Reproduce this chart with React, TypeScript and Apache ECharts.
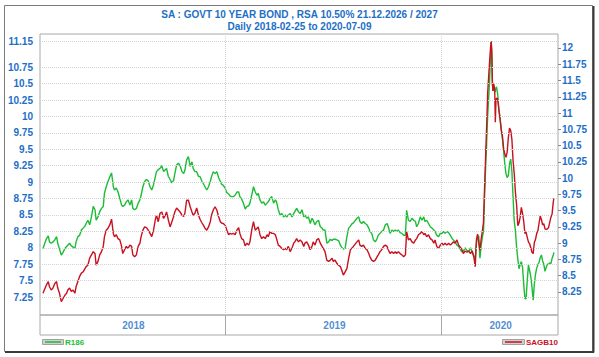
import React, { useEffect, useRef } from 'react';
import * as echarts from 'echarts';

const dates = [
  '2018-02-26','2018-03-04','2018-03-07','2018-03-09','2018-03-12','2018-03-15','2018-03-18','2018-03-21','2018-03-23','2018-03-26','2018-03-29',
  '2018-04-01','2018-04-04','2018-04-07','2018-04-09','2018-04-12','2018-04-15','2018-04-18','2018-04-21','2018-04-23','2018-04-26','2018-04-29',
  '2018-05-02','2018-05-05','2018-05-08','2018-05-10','2018-05-13','2018-05-16','2018-05-19','2018-05-22','2018-05-25','2018-05-27','2018-05-30',
  '2018-06-02','2018-06-05','2018-06-08','2018-06-10','2018-06-13','2018-06-16','2018-06-19','2018-06-22','2018-06-25','2018-06-27','2018-06-30',
  '2018-07-03','2018-07-06','2018-07-09','2018-07-11','2018-07-14','2018-07-17','2018-07-20','2018-07-23','2018-07-26','2018-07-28','2018-07-31',
  '2018-08-03','2018-08-06','2018-08-09','2018-08-11','2018-08-14','2018-08-17',
  '2018-08-20','2018-08-23','2018-08-26','2018-08-29',
  '2018-09-01','2018-09-04','2018-09-06','2018-09-09','2018-09-12','2018-09-15','2018-09-18','2018-09-21','2018-09-23','2018-09-26','2018-09-29',
  '2018-10-02','2018-10-05','2018-10-07','2018-10-10','2018-10-13','2018-10-16','2018-10-19','2018-10-22','2018-10-24','2018-10-27','2018-10-30',
  '2018-11-02','2018-11-05','2018-11-07','2018-11-10','2018-11-13','2018-11-16','2018-11-19','2018-11-22','2018-11-24','2018-11-27','2018-11-30',
  '2018-12-03','2018-12-06','2018-12-08','2018-12-11','2018-12-14','2018-12-17','2018-12-20','2018-12-23','2018-12-25','2018-12-28','2018-12-31',
  '2019-01-03','2019-01-06','2019-01-08','2019-01-11','2019-01-14','2019-01-17','2019-01-20','2019-01-23','2019-01-25','2019-01-28','2019-01-31',
  '2019-02-03','2019-02-06','2019-02-09',
  '2019-02-11','2019-02-14','2019-02-17','2019-02-20','2019-02-23','2019-02-25','2019-02-28',
  '2019-03-03','2019-03-06','2019-03-09','2019-03-12','2019-03-14','2019-03-17','2019-03-20','2019-03-23','2019-03-26','2019-03-28','2019-03-31',
  '2019-04-03','2019-04-06','2019-04-09','2019-04-12','2019-04-14','2019-04-17','2019-04-20','2019-04-23','2019-04-26','2019-04-28',
  '2019-05-01','2019-05-04','2019-05-07','2019-05-10','2019-05-13','2019-05-15','2019-05-18','2019-05-21','2019-05-24','2019-05-27','2019-05-29',
  '2019-06-01','2019-06-04','2019-06-07','2019-06-10','2019-06-13','2019-06-15','2019-06-18','2019-06-21','2019-06-24','2019-06-27','2019-06-30',
  '2019-07-02','2019-07-05','2019-07-08','2019-07-11','2019-07-14','2019-07-16','2019-07-19','2019-07-22','2019-07-25','2019-07-28','2019-07-31',
  '2019-08-02','2019-08-05',
  '2019-08-11','2019-08-14','2019-08-16','2019-08-19','2019-08-22','2019-08-25','2019-08-28','2019-08-31',
  '2019-09-02','2019-09-05','2019-09-08','2019-09-11','2019-09-14','2019-09-16','2019-09-19','2019-09-22','2019-09-25','2019-09-28',
  '2019-10-01','2019-10-03','2019-10-06','2019-10-09','2019-10-12','2019-10-15','2019-10-17','2019-10-20','2019-10-23','2019-10-26','2019-10-29',
  '2019-11-01','2019-11-03','2019-11-06','2019-11-09','2019-11-12','2019-11-15','2019-11-18','2019-11-20','2019-11-23','2019-11-26','2019-11-29',
  '2019-12-02','2019-12-04','2019-12-07','2019-12-10','2019-12-13','2019-12-16','2019-12-19','2019-12-21','2019-12-24','2019-12-27','2019-12-30',
  '2020-01-02','2020-01-04','2020-01-07','2020-01-10','2020-01-13','2020-01-16','2020-01-19','2020-01-21','2020-01-24','2020-01-27','2020-01-30',
  '2020-02-04','2020-02-07','2020-02-10','2020-02-13','2020-02-16','2020-02-19','2020-02-22','2020-02-25','2020-02-27','2020-02-29',
  '2020-03-02','2020-03-04','2020-03-06','2020-03-08','2020-03-10','2020-03-12','2020-03-14',
  '2020-03-15','2020-03-16','2020-03-17','2020-03-18','2020-03-19','2020-03-20','2020-03-21','2020-03-22','2020-03-23','2020-03-24',
  '2020-03-25','2020-03-26','2020-03-27','2020-03-28','2020-03-29','2020-03-30','2020-03-31','2020-04-01','2020-04-02','2020-04-03',
  '2020-04-05','2020-04-07','2020-04-09','2020-04-11','2020-04-13','2020-04-15','2020-04-17','2020-04-19','2020-04-21','2020-04-23','2020-04-25','2020-04-27','2020-04-29',
  '2020-05-01','2020-05-03','2020-05-05','2020-05-07','2020-05-09','2020-05-11','2020-05-13','2020-05-15','2020-05-17','2020-05-19','2020-05-21','2020-05-23','2020-05-25','2020-05-27','2020-05-29','2020-05-31',
  '2020-06-02','2020-06-04','2020-06-06','2020-06-08','2020-06-10','2020-06-12','2020-06-14','2020-06-16','2020-06-18','2020-06-20','2020-06-22','2020-06-24','2020-06-26','2020-06-28','2020-06-30',
  '2020-07-02','2020-07-04','2020-07-06','2020-07-08','2020-07-09',
];

const r186 = [
  7.99, 8.14, 8.18, 8.09, 8.07, 8.09, 8.12, 8.17, 8.07, 7.98, 7.89, 7.93, 7.99, 8.02, 8.04, 8.07, 8.03, 8.01, 7.99, 8.09,
  8.17, 8.19, 8.27, 8.30, 8.33, 8.37, 8.42, 8.35, 8.47, 8.63, 8.58, 8.42, 8.47, 8.55, 8.60, 8.63, 8.83, 8.93, 9.01, 9.08,
  9.14, 8.93, 8.88, 8.91, 8.85, 8.75, 8.65, 8.63, 8.65, 8.70, 8.73, 8.65, 8.73, 8.60, 8.58, 8.60, 8.68, 8.73, 8.80, 8.93, 9.01,
  9.04, 9.02, 8.93, 8.88, 8.96, 9.08, 9.16, 9.19, 9.21, 9.25, 9.16, 9.19, 9.21, 9.09, 9.04, 8.99, 9.03, 9.13, 9.26, 9.29,
  9.25, 9.16, 9.13, 9.18, 9.34, 9.39, 9.24, 9.31, 9.21, 9.16, 9.16, 9.09, 9.08, 9.01, 8.98, 8.93, 8.88, 8.93, 9.01, 9.08,
  9.16, 9.13, 9.16, 9.07, 9.01, 8.97, 8.95, 8.91, 8.84, 8.82, 8.79, 8.78, 8.78, 8.80, 8.85, 8.85, 8.78, 8.74, 8.68, 8.59, 8.63, 8.64,
  8.68, 8.80, 8.93, 8.85, 8.80, 8.83, 8.73, 8.68, 8.70, 8.65, 8.68, 8.70, 8.75, 8.78, 8.68, 8.73, 8.70, 8.58, 8.50, 8.52,
  8.47, 8.50, 8.47, 8.50, 8.52, 8.47, 8.52, 8.55, 8.60, 8.55, 8.52, 8.58, 8.47, 8.50, 8.45, 8.47, 8.37, 8.45, 8.42, 8.35,
  8.40, 8.42, 8.32, 8.30, 8.27, 8.27, 8.07, 8.09, 8.13, 8.11, 8.13, 8.13, 8.12, 8.11, 8.04, 8.01, 7.98, 7.99, 8.17, 8.30, 8.33, 8.36, 8.38,
  8.45, 8.47, 8.40, 8.37, 8.40, 8.37, 8.35, 8.30, 8.25, 8.22, 8.12, 8.09, 8.14, 8.19, 8.22, 8.25, 8.27, 8.35, 8.37, 8.32,
  8.22, 8.27, 8.25, 8.27, 8.25, 8.27, 8.23, 8.22, 8.19, 8.19, 8.57, 8.42, 8.40, 8.45, 8.42, 8.40, 8.32, 8.37, 8.47, 8.42,
  8.47, 8.40, 8.42, 8.37, 8.32, 8.30, 8.27, 8.25, 8.19, 8.17, 8.22, 8.22, 8.25, 8.22, 8.25, 8.23, 8.19, 8.14, 8.12, 8.09, 8.04, 8.02,
  7.94, 7.95, 8.00, 7.96, 7.94, 8.00, 7.93, 7.87, 7.83, 8.06,
  8.18, 8.18, 7.84, 8.03, 8.16, 8.25, 8.84,
  9.07, 9.33, 9.50, 9.78, 9.99, 10.16, 10.32, 10.49, 10.70, 10.95, 11.15, 10.95, 10.49, 10.39, 10.44, 10.42, 10.37, 10.39, 10.44, 10.45,
  10.34, 10.11, 9.98, 9.81, 9.66, 9.48, 9.28, 9.13, 9.07, 9.10, 9.28, 9.35, 9.17, 8.77, 8.41, 8.26, 8.01, 7.83, 7.68, 7.74,
  7.79, 7.71, 7.45, 7.23, 7.22, 7.50, 7.74, 7.65, 7.56, 7.40, 7.20, 7.45, 7.60, 7.69, 7.74, 7.78, 7.85, 7.89, 7.80, 7.75,
  7.64, 7.70, 7.75, 7.75, 7.77, 7.76, 7.84, 7.89,
  7.93,
];

const sagb10 = [
  8.23, 8.36, 8.41, 8.33, 8.28, 8.31, 8.38, 8.41, 8.31, 8.23, 8.10, 8.15, 8.20, 8.23, 8.28, 8.31, 8.26, 8.28, 8.23, 8.33,
  8.41, 8.49, 8.54, 8.56, 8.61, 8.64, 8.66, 8.77, 8.82, 8.87, 8.84, 8.66, 8.72, 8.82, 8.87, 8.95, 9.10, 9.20, 9.23, 9.28,
  9.37, 9.15, 9.10, 9.13, 9.07, 9.05, 8.95, 8.84, 8.90, 8.95, 8.92, 8.97, 8.95, 8.82, 8.79, 8.82, 8.95, 9.00, 9.10, 9.20, 9.25,
  9.24, 9.20, 9.15, 9.10, 9.20, 9.36, 9.43, 9.33, 9.46, 9.48, 9.38, 9.43, 9.48, 9.36, 9.25, 9.33, 9.41, 9.48, 9.54, 9.51,
  9.48, 9.43, 9.41, 9.46, 9.66, 9.66, 9.56, 9.48, 9.43, 9.46, 9.54, 9.43, 9.36, 9.31, 9.28, 9.23, 9.20, 9.25, 9.33, 9.43,
  9.51, 9.56, 9.51, 9.41, 9.33, 9.31, 9.30, 9.28, 9.20, 9.13, 9.15, 9.14, 9.15, 9.13, 9.20, 9.24, 9.15, 9.07, 9.05, 8.96, 9.00, 8.97,
  9.02, 9.20, 9.33, 9.20, 9.23, 9.25, 9.13, 9.07, 9.10, 9.07, 9.13, 9.10, 9.18, 9.15, 9.15, 9.13, 9.07, 8.97, 8.95, 8.92,
  8.90, 8.92, 8.90, 8.95, 8.87, 8.92, 9.00, 9.02, 9.07, 9.02, 9.05, 9.02, 8.95, 9.00, 9.02, 8.97, 8.90, 8.95, 9.02, 8.97,
  9.05, 9.07, 9.00, 8.95, 8.92, 8.87, 8.74, 8.72, 8.74, 8.77, 8.72, 8.74, 8.69, 8.66, 8.64, 8.59, 8.51, 8.56, 8.61, 8.77, 8.90, 8.92, 8.95,
  9.02, 9.05, 8.97, 8.95, 8.97, 8.92, 8.90, 8.84, 8.79, 8.74, 8.72, 8.74, 8.79, 8.82, 8.87, 8.90, 8.95, 8.97, 8.95, 8.90,
  8.84, 8.87, 8.84, 8.87, 8.84, 8.87, 8.84, 8.82, 8.79, 8.82, 9.18, 9.05, 9.07, 9.02, 9.00, 9.05, 9.07, 9.13, 9.15, 9.18,
  9.13, 9.15, 9.10, 9.13, 9.07, 9.05, 9.00, 9.05, 8.95, 8.92, 8.97, 9.00, 8.97, 9.00, 8.97, 9.00, 8.97, 9.00, 9.02, 9.00, 9.05, 8.97,
  8.91, 8.84, 8.88, 8.86, 8.88, 8.84, 8.88, 8.77, 8.64, 9.05,
  9.14, 9.01, 8.89, 9.06, 9.18, 9.32, 9.91,
  10.17, 10.45, 10.70, 10.99, 11.30, 11.45, 11.60, 11.75, 11.88, 12.01, 12.10, 11.96, 11.50, 11.34, 11.45, 11.42, 11.34, 10.86, 11.17, 11.23,
  11.22, 11.05, 10.91, 10.74, 10.65, 10.46, 10.37, 10.32, 10.40, 10.62, 10.77, 10.73, 10.60, 10.27, 10.07, 9.78, 9.59, 9.27, 9.31, 9.40,
  9.55, 9.46, 9.34, 9.15, 9.17, 9.09, 9.02, 8.99, 8.93, 8.86, 8.84, 9.01, 9.06, 9.15, 9.19, 9.31, 9.42, 9.36, 9.28, 9.30,
  9.22, 9.21, 9.22, 9.24, 9.32, 9.40, 9.45, 9.63,
  9.69,
];

const leftTicks = [7.25, 7.5, 7.75, 8, 8.25, 8.5, 8.75, 9, 9.25, 9.5, 9.75, 10, 10.25, 10.5, 10.75, 11.15];
const rightTicks = [8.25, 8.5, 8.75, 9, 9.25, 9.5, 9.75, 10, 10.25, 10.5, 10.75, 11, 11.25, 11.5, 11.75, 12];
const yearLabels = ['2018', '2019', '2020'];
const yearCenters = ['2018-07-29', '2019-07-04', '2020-04-10'];
const yearStarts = ['2019-01-01', '2020-01-01'];

const X_MIN = '2018-02-21';
const X_MAX = '2020-07-16';
const BLUE = '#1d6fc6';
const GREEN = '#1cbd36';
const RED = '#c9101f';
const FONT = '"Liberation Sans", Arial, sans-serif';

export default function App() {
  const ref = useRef<HTMLDivElement>(null);
  useEffect(() => {
    document.body.style.margin = '0';
    const chart = echarts.init(ref.current as HTMLDivElement, null, { renderer: 'svg' });
    const labelStyle = { color: BLUE, fontSize: 10, fontWeight: 'bold', fontFamily: FONT };
    chart.setOption({
      animation: false,
      backgroundColor: '#ffffff',
      textStyle: { fontFamily: FONT },
      title: {
        text: 'SA : GOVT 10 YEAR BOND , RSA 10.50% 21.12.2026 / 2027',
        subtext: 'Daily 2018-02-25 to 2020-07-09',
        left: 'center',
        top: 8,
        padding: 0,
        itemGap: 0,
        textStyle: { ...labelStyle, lineHeight: 12 },
        subtextStyle: { ...labelStyle, lineHeight: 12 },
      },
      grid: [
        { left: 40, top: 34, width: 518, height: 281, show: true, borderColor: '#a8a8a8', borderWidth: 1, backgroundColor: '#ffffff' },
        { left: 40, top: 315, width: 518, height: 20, show: true, borderColor: '#a8a8a8', borderWidth: 1 },
      ],
      xAxis: [
        { gridIndex: 0, type: 'time', min: X_MIN, max: X_MAX, show: false },
        { gridIndex: 1, type: 'time', min: X_MIN, max: X_MAX, show: false },
      ],
      yAxis: [
        {
          gridIndex: 0, type: 'value', position: 'left', min: 6.976, max: 11.257,
          axisLine: { show: false }, axisTick: { show: false }, splitLine: { show: false },
          axisLabel: { ...labelStyle, customValues: leftTicks, margin: 7 },
        },
        {
          gridIndex: 0, type: 'value', position: 'right', min: 7.896, max: 12.215,
          axisLine: { show: false },
          axisTick: { show: true, customValues: rightTicks, length: 3, lineStyle: { color: '#8a8a8a' } },
          splitLine: { show: false },
          axisLabel: { ...labelStyle, customValues: rightTicks, margin: 4 },
        },
        { gridIndex: 1, type: 'value', min: 0, max: 1, show: false },
      ],
      series: [
        {
          name: 'grid', type: 'line', xAxisIndex: 0, yAxisIndex: 0, data: [], z: 1, silent: true,
          markLine: {
            silent: true, symbol: 'none', label: { show: false },
            lineStyle: { type: 'dotted', color: '#d2d2d2', width: 1 },
            data: [
              ...leftTicks.map((v) => ({ yAxis: v })),
              ...yearStarts.map((d) => ({ xAxis: d })),
            ],
          },
        },
        {
          name: 'R186', type: 'line', xAxisIndex: 0, yAxisIndex: 0, z: 3,
          showSymbol: false, symbol: 'none',
          lineStyle: { color: GREEN, width: 1.4 },
          data: dates.map((d, i) => [d, r186[i]]),
        },
        {
          name: 'SAGB10', type: 'line', xAxisIndex: 0, yAxisIndex: 1, z: 4,
          showSymbol: false, symbol: 'none',
          lineStyle: { color: RED, width: 1.4 },
          data: dates.map((d, i) => [d, sagb10[i]]),
        },
        {
          name: 'years', type: 'scatter', xAxisIndex: 1, yAxisIndex: 2, silent: true,
          symbolSize: 1, itemStyle: { color: 'rgba(0,0,0,0)' },
          label: { show: true, position: 'inside', formatter: '{b}', ...labelStyle },
          data: yearCenters.map((d, i) => ({ name: yearLabels[i], value: [d, 0.5] })),
          markLine: {
            silent: true, symbol: 'none', label: { show: false },
            lineStyle: { type: 'solid', color: '#a8a8a8', width: 1 },
            data: yearStarts.map((d) => ({ xAxis: d })),
          },
        },
      ],
      graphic: [
        { type: 'rect', silent: true, z: 0, shape: { x: 4.5, y: 5.5, width: 588, height: 346 }, style: { fill: 'none', stroke: '#7a7a7a', lineWidth: 1 } },
        { type: 'line', silent: true, shape: { x1: 593.5, y1: 6, x2: 593.5, y2: 352.5 }, style: { stroke: '#3a3a3a', lineWidth: 2 } },
        { type: 'line', silent: true, shape: { x1: 5, y1: 352, x2: 594, y2: 352 }, style: { stroke: '#3a3a3a', lineWidth: 2 } },
        { type: 'rect', silent: true, shape: { x: 42.5, y: 339.5, width: 21, height: 5 }, style: { fill: '#d0d0d0', stroke: '#a0a0a0', lineWidth: 1 } },
        { type: 'line', silent: true, shape: { x1: 45, y1: 342, x2: 61, y2: 342 }, style: { stroke: GREEN, lineWidth: 1.5 } },
        { type: 'text', silent: true, x: 65, y: 342, style: { text: 'R186', fill: GREEN, font: 'bold 8px "Liberation Sans", Arial, sans-serif', verticalAlign: 'middle', align: 'left' } },
        { type: 'rect', silent: true, shape: { x: 502.5, y: 339.5, width: 22, height: 5 }, style: { fill: '#d0d0d0', stroke: '#a0a0a0', lineWidth: 1 } },
        { type: 'line', silent: true, shape: { x1: 505, y1: 342, x2: 522, y2: 342 }, style: { stroke: RED, lineWidth: 1.5 } },
        { type: 'text', silent: true, x: 526, y: 342, style: { text: 'SAGB10', fill: RED, font: 'bold 8px "Liberation Sans", Arial, sans-serif', verticalAlign: 'middle', align: 'left' } },
      ],
    });
    return () => chart.dispose();
  }, []);
  return <div ref={ref} style={{ width: 599, height: 357 }} />;
}
